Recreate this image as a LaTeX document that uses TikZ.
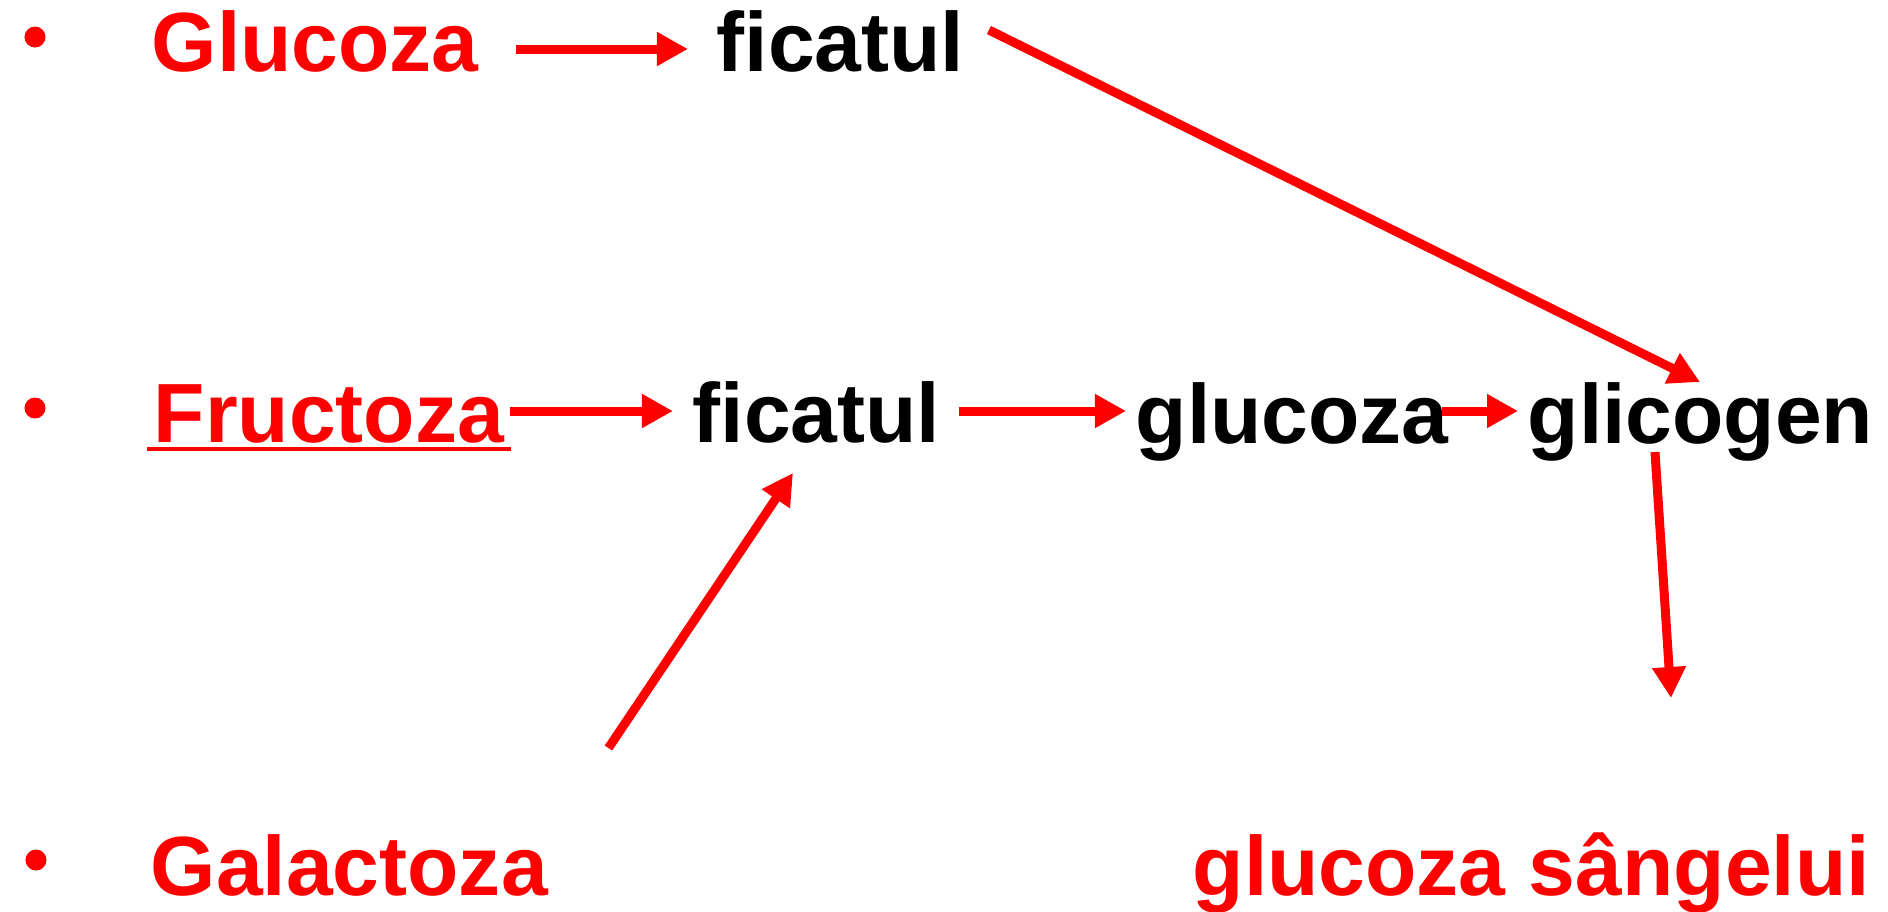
\documentclass[tikz,border=0pt]{standalone}
\usepackage{fontspec}
\setmainfont{Liberation Sans}
\usetikzlibrary{arrows.meta, positioning}

\begin{document}
\begin{tikzpicture}[
            x=0.01cm, y=-0.01cm,
            every node/.style={
                font=\fontsize{23.9pt}{28pt}\selectfont\bfseries,
                inner sep=0pt,
                anchor=base west
            },
            sugar/.style={text=red},
            organ/.style={text=black},
            dot/.style={
                circle,
                fill=red,
                minimum size=0.21cm,
                anchor=center
            },
            arrow/.style={-{Triangle[length=0.31cm, width=0.32cm]}, draw=red, line width=0.09cm}
        ]
        \useasboundingbox (0,0) rectangle (1888,911);

        % Nodes
        \node[dot] (b1) at (35,37) {};
        \node[sugar] (glc1) at (151,71) {Glucoza};
        \node[organ] (fic1) at (716,71) {ficatul};

        \node[dot] (b2) at (35,408) {};
        \node[sugar] (fru) at (153,442) {Fructoza};
        \node[organ] (fic2) at (692,442) {ficatul};
        \node[organ] (glc2) at (1135,443) {glucoza};
        \node[organ] (gli) at (1527,443) {glicogen};

        \node[dot] (b3) at (36,860) {};
        \node[sugar] (gal) at (150,895) {Galactoza};
        \node[sugar] (sang) at (1192,895) {glucoza sângelui};

        % Underline
        \draw[red, line width=0.04cm] ([shift={(-6,7)}]fru.base west) -- ([shift={(6,7)}]fru.base east);

        % Arrows
        \draw[arrow] ([shift={(37,-22)}]glc1.base east) -- ([shift={(-28,-22)}]fic1.base west);
        \draw[arrow] ([shift={(5,-31)}]fru.base east) -- ([shift={(-19,-31)}]fic2.base west);
        \draw[arrow] ([shift={(18,-31)}]fic2.base east) -- ([shift={(-9,-32)}]glc2.base west);
        \draw[arrow] ([shift={(-7,-32)}]glc2.base east) -- ([shift={(-9,-32)}]gli.base west);

        \draw[arrow] ([shift={(24,-41)}]fic1.base east) -- ([shift={(173,-61)}]gli.base west);
        \draw[arrow] ([shift={(60,-147)}]gal.base east) -- ([shift={(101,31)}]fic2.base west);
        \draw[arrow] ([shift={(128,9)}]gli.base west) -- ([shift={(479,-197)}]sang.base west);

        \end{tikzpicture}
\end{document}
